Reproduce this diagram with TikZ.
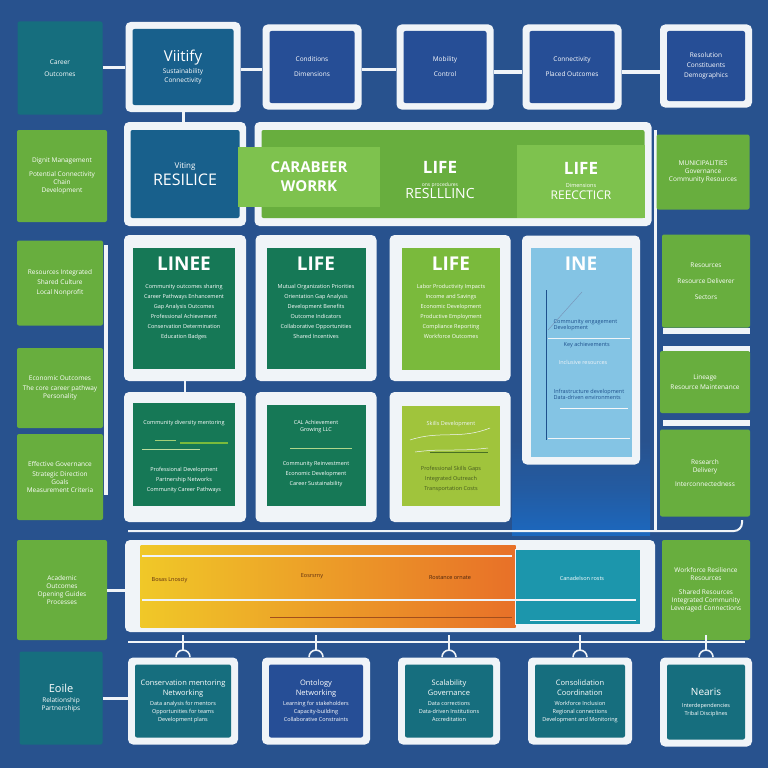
\documentclass[tikz,border=0pt]{standalone}
\usepackage{fontspec}
\setmainfont{Open Sans}
\usetikzlibrary{positioning}
\definecolor{bgblue}{RGB}{40,82,142}
\definecolor{paper}{RGB}{240,244,248}
\definecolor{boxteal}{RGB}{22,110,126}
\definecolor{boxnavy}{RGB}{38,78,150}
\definecolor{boxsea}{RGB}{24,96,140}
\definecolor{leaf}{RGB}{104,174,62}
\definecolor{leaflt}{RGB}{126,194,78}
\definecolor{pine}{RGB}{22,120,86}
\definecolor{cardlime}{RGB}{122,186,60}
\definecolor{olivec}{RGB}{160,196,60}
\definecolor{cardsky}{RGB}{132,196,228}
\definecolor{inkblue}{RGB}{30,80,140}
\definecolor{inkolive}{RGB}{70,90,30}
\definecolor{sunny}{RGB}{240,200,40}
\definecolor{ember}{RGB}{232,112,40}
\definecolor{lagoon}{RGB}{28,150,172}
\definecolor{glow}{RGB}{28,104,190}

\begin{document}
\begin{tikzpicture}[x=1pt,y=-1pt,line width=0.8pt,
  frame/.style={fill=paper,rounded corners=5pt,inner sep=0pt},
  tile/.style={rounded corners=2pt,inner sep=1pt,text=white,align=center,
    font=\fontsize{6.5}{12}\selectfont},
  title/.style={font=\fontsize{19}{21}\selectfont\bfseries,text=white},
  small/.style={font=\fontsize{5.5}{10}\selectfont,text=white,align=center},
  link/.style={draw=paper,line width=3pt},
  hookline/.style={draw=paper,line width=1.6pt}]
% background
\fill[bgblue] (0,0) rectangle (768,768);
\shade[top color=bgblue,bottom color=glow,middle color=bgblue!60!glow] (512,440) rectangle (650,535);
% top row
\node[tile,fill=boxteal,minimum width=85pt,minimum height=93pt] (car) at (60,68) {Career\\Outcomes};
\node[frame,minimum width=115pt,minimum height=90pt] (vitf) at (183,67) {};
\node[tile,fill=boxsea,minimum width=101pt,minimum height=76pt] (vit) at (vitf)
  {{\fontsize{15}{18}\selectfont Viitify}\\Sustainability\\[-3pt]Connectivity};
\node[frame,minimum width=99pt,minimum height=85pt] (conf) at (312,67) {};
\node[tile,fill=boxnavy,minimum width=85pt,minimum height=72pt] (con) at (conf) {Conditions\\[3pt]Dimensions};
\node[frame,minimum width=97pt,minimum height=85pt] (mobf) at (445,67) {};
\node[tile,fill=boxnavy,minimum width=83pt,minimum height=72pt] (mob) at (mobf) {Mobility\\[3pt]Control};
\node[frame,minimum width=99pt,minimum height=85pt] (plcf) at (572,67) {};
\node[tile,fill=boxnavy,minimum width=85pt,minimum height=72pt] (plc) at (plcf) {Connectivity\\[3pt]Placed Outcomes};
\node[frame,minimum width=92pt,minimum height=83pt] (resf) at (706,66) {};
\node[tile,fill=boxnavy,minimum width=78pt,minimum height=70pt] (res) at (resf)
  {Resolution\\[-2pt]Constituents\\[-2pt]Demographics};
\draw[link] (car.east) -- (car.east -| vitf.west);
\draw[link] ([yshift=-3pt]vitf.east) -- ([yshift=-3pt]vitf.east -| conf.west);
\draw[link] ([yshift=-3pt]conf.east) -- ([yshift=-3pt]conf.east -| mobf.west);
\draw[link] ([yshift=-5pt]mobf.east) -- ([yshift=-5pt]mobf.east -| plcf.west);
\draw[link] ([yshift=-5pt]plcf.east) -- ([yshift=-5pt]plcf.east -| resf.west);
% resilience row
\node[frame,minimum width=122pt,minimum height=104pt] (rsf) at (185,174) {};
\node[tile,fill=boxsea,minimum width=109pt,minimum height=88pt] (rs) at (rsf)
  {{\fontsize{8}{10}\selectfont Viting}\\[2pt]{\fontsize{16}{18}\selectfont RESILICE}};
\draw[link] (vitf.south) -- (vitf.south |- rsf.north);
\node[frame,minimum width=397pt,minimum height=104pt] (lifef) at (453,174) {};
\node[fill=leaf,minimum width=383pt,minimum height=88pt,rounded corners=2pt] (lifeg) at (lifef) {};
\node[fill=leaflt,minimum width=142pt,minimum height=60pt,text=white,align=center,
  font=\fontsize{15}{19}\selectfont\bfseries] (work) at (309,177) {CARABEER\\WORRK};
\node[text=white,align=center] (resl) at (440,180)
  {{\fontsize{17}{19}\selectfont\bfseries LIFE}\\[1pt]{\fontsize{5}{6}\selectfont ons procedures}\\{\fontsize{14}{16}\selectfont RESLLLINC}};
\node[fill=leaflt,minimum width=128pt,minimum height=73pt,text=white,align=center] (refl) at (581,181)
  {{\fontsize{17}{19}\selectfont\bfseries LIFE}\\[1pt]{\fontsize{5.5}{6}\selectfont Dimensions}\\{\fontsize{12}{14}\selectfont REECCTICR}};
% left column
\node[tile,fill=leaf,minimum width=90pt,minimum height=92pt] (dig) at (62,176)
  {Dignit Management\\[2pt]Potential Connectivity\\[-4pt]Chain\\[-4pt]Development};
\node[tile,fill=leaf,minimum width=86pt,minimum height=85pt] (shr) at (60,283)
  {Resources Integrated\\[-2pt]Shared Culture\\[-2pt]Local Nonprofit};
\node[tile,fill=leaf,minimum width=86pt,minimum height=80pt] (eco) at (60,388)
  {Economic Outcomes\\[-2pt]The core career pathway\\[-4pt]Personality};
\node[tile,fill=leaf,minimum width=86pt,minimum height=86pt] (gov) at (60,477)
  {Effective Governance\\[-2pt]Strategic Direction\\[-4pt]Goals\\[-4pt]Measurement Criteria};
\fill[paper] (104,245) rectangle (108,495);
\node[tile,fill=leaf,minimum width=90pt,minimum height=100pt] (aca) at (62,590)
  {Academic\\[-4pt]Outcomes\\[-4pt]Opening Guides\\[-4pt]Processes};
\node[tile,fill=boxteal,minimum width=83pt,minimum height=93pt] (eoi) at (61,698)
  {{\fontsize{11}{13}\selectfont Eoile}\\[-2pt]Relationship\\[-4pt]Partnerships};
% right column
\fill[paper] (654,130) rectangle (657,530);
\node[tile,fill=leaf,minimum width=93pt,minimum height=75pt] (mun) at (703,172)
  {MUNICIPALITIES\\[-4pt]Governance\\[-4pt]Community Resources};
\node[tile,fill=leaf,minimum width=88pt,minimum height=93pt] (rsd) at (706,281)
  {Resources\\[4pt]Resource Deliverer\\[4pt]Sectors};
\fill[paper] (663,328) rectangle (750,334);
\fill[paper] (663,346) rectangle (750,352);
\node[tile,fill=leaf,minimum width=90pt,minimum height=62pt] (lin) at (705,382)
  {Lineage\\[-2pt]Resource Maintenance};
\fill[paper] (663,420) rectangle (750,426);
\node[tile,fill=leaf,minimum width=90pt,minimum height=87pt] (rsc) at (705,473)
  {Research\\[-4pt]Delivery\\[2pt]Interconnectedness};
\node[tile,fill=leaf,minimum width=88pt,minimum height=100pt] (wrk) at (706,590)
  {Workforce Resilience\\[-4pt]Resources\\[2pt]Shared Resources\\[-4pt]Integrated Community\\[-4pt]Leveraged Connections};
% cards, upper row
\node[frame,minimum width=122pt,minimum height=146pt] (c1f) at (185,308) {};
\node[fill=pine,minimum width=102pt,minimum height=121pt] (c1) at (184,308) {};
\node[title,below=6pt of c1.north] (c1t) {LINEE};
\node[small,below=6pt of c1t] {Community outcomes sharing\\Career Pathways Enhancement\\Gap Analysis Outcomes\\Professional Achievement\\Conservation Determination\\Education Badges};
\node[frame,minimum width=121pt,minimum height=146pt] (c2f) at (316,308) {};
\node[fill=pine,minimum width=99pt,minimum height=121pt] (c2) at (316,308) {};
\node[title,below=6pt of c2.north] (c2t) {LIFE};
\node[small,below=6pt of c2t] {Mutual Organization Priorities\\Orientation Gap Analysis\\Development Benefits\\Outcome Indicators\\Collaborative Opportunities\\Shared Incentives};
\node[frame,minimum width=121pt,minimum height=146pt] (c3f) at (450,308) {};
\node[fill=cardlime,minimum width=98pt,minimum height=122pt] (c3) at (451,309) {};
\node[title,below=6pt of c3.north] (c3t) {LIFE};
\node[small,below=6pt of c3t] {Labor Productivity Impacts\\Income and Savings\\Economic Development\\Productive Employment\\Compliance Reporting\\Workforce Outcomes};
\node[frame,minimum width=118pt,minimum height=229pt] (c4f) at (581,350) {};
\node[fill=cardsky,minimum width=101pt,minimum height=209pt] (c4) at (581,352) {};
\node[title,below=6pt of c4.north] (c4t) {INE};
% chart on the sky card
\draw[inkblue,line width=0.5pt] (546,290) -- (546,440);
\draw[inkblue!60,line width=0.5pt] (548,330) -- (582,292);
\draw[paper,line width=0.8pt] (548,338) -- (630,338);
\draw[paper,line width=0.8pt] (548,438) -- (630,438);
\draw[paper!70,line width=0.6pt] (560,408) -- (628,408);
\node[small,text=inkblue,align=left,anchor=west] (c4a) at (550,325) {Community engagement\\[-4pt]Development};
\node[small,text=inkblue,anchor=west] (c4b) at (560,345) {Key achievements};
\node[small,text=paper,anchor=west] (c4c) at (555,362) {Inclusive resources};
\node[small,text=inkblue,align=left,anchor=west] (c4d) at (550,394) {Infrastructure development\\[-4pt]Data-driven environments};
% cards, lower row
\draw[hookline] (c1f.south) -- ++(0,14);
\node[frame,minimum width=122pt,minimum height=130pt] (d1f) at (185,457) {};
\node[fill=pine,minimum width=102pt,minimum height=103pt] (d1) at (184,454) {};
\node[small,below=14pt of d1.north] (d1t) {Community diversity mentoring};
\draw[cardlime,line width=1.6pt] (180,443) -- (228,443);
\draw[cardlime!70,line width=0.8pt] (155,440) -- (176,440);
\draw[cardlime!50,line width=0.8pt] (142,449) -- (200,449);
\node[small,below=34pt of d1t] {Professional Development\\Partnership Networks\\Community Career Pathways};
\node[frame,minimum width=121pt,minimum height=130pt] (d2f) at (316,457) {};
\node[fill=pine,minimum width=99pt,minimum height=101pt] (d2) at (316,455) {};
\node[small,below=12pt of d2.north,align=center] (d2t) {CAL Achievement\\[-3pt]Growing LLC};
\draw[cardlime!60,line width=0.8pt] (290,448) -- (352,448);
\node[small,below=22pt of d2t] {Community Reinvestment\\Economic Development\\Career Sustainability};
\node[frame,minimum width=121pt,minimum height=130pt] (d3f) at (450,457) {};
\node[fill=olivec,minimum width=98pt,minimum height=100pt] (d3) at (451,456) {};
\node[small,text=paper,below=12pt of d3.north] (d3t) {Skills Development};
\draw[paper!80,line width=0.5pt] (410,440) .. controls (440,430) and (460,440) .. (490,428);
\draw[paper!80,line width=0.5pt] (415,452) .. controls (445,448) and (455,452) .. (488,448);
\draw[cardlime!60!black,line width=1pt] (430,452) -- (488,452);
\node[small,text=inkolive,below=32pt of d3t] {Professional Skills Gaps\\Integrated Outreach\\Transportation Costs};
% band
\draw[paper,line width=2pt,rounded corners=8pt] (128,531) -- (742,531) -- (742,520);
\node[frame,minimum width=530pt,minimum height=92pt] (bandf) at (390,586) {};
\node[left color=sunny,right color=ember,minimum width=375pt,minimum height=82pt,inner sep=0pt] (grad) at (328,586) {};
\node[fill=lagoon,draw=paper,line width=1.2pt,minimum width=125pt,minimum height=75pt] (lago) at (578,587) {};
\draw[paper,line width=1.5pt] (142,556) -- (512,556);
\draw[paper,line width=1.5pt] (142,600) -- (636,600);
\draw[ember!70!black,line width=1pt] (270,617) -- (512,617);
\draw[paper!80,line width=0.8pt] (530,620) -- (636,620);
\node[small,text=ember!40!black,anchor=west] (bnd1) at (148,580) {Bosas Lnosciy};
\node[small,text=ember!40!black] (bnd2) at (312,576) {Eosrsrny};
\node[small,text=ember!30!black] (bnd3) at (450,578) {Rostance ornate};
\node[small] (bnd4) at (582,578) {Canadelson rosts};
\draw[link] (aca.east) -- (aca.east -| bandf.west);
% bottom row
\coordinate (railL) at (128,642);
\coordinate (railR) at (745,642);
\draw[paper!85,line width=1.2pt] (railL) -- (railR);
\node[frame,minimum width=110pt,minimum height=87pt] (b1f) at (183,701) {};
\node[tile,fill=boxteal,minimum width=96pt,minimum height=73pt,font=\fontsize{5.5}{10}\selectfont] (b1) at (b1f)
  {{\fontsize{7.5}{9}\selectfont Conservation mentoring}\\{\fontsize{7.5}{9}\selectfont Networking}\\Data analysis for mentors\\[-2pt]Opportunities for teams\\[-2pt]Development plans};
\node[frame,minimum width=108pt,minimum height=87pt] (b2f) at (316,701) {};
\node[tile,fill=boxnavy,minimum width=94pt,minimum height=73pt,font=\fontsize{5.5}{10}\selectfont] (b2) at (b2f)
  {{\fontsize{7.5}{9}\selectfont Ontology}\\{\fontsize{7.5}{9}\selectfont Networking}\\Learning for stakeholders\\[-2pt]Capacity-building\\[-2pt]Collaborative Constraints};
\node[frame,minimum width=102pt,minimum height=87pt] (b3f) at (449,701) {};
\node[tile,fill=boxteal,minimum width=88pt,minimum height=73pt,font=\fontsize{5.5}{10}\selectfont] (b3) at (b3f)
  {{\fontsize{7.5}{9}\selectfont Scalability}\\{\fontsize{7.5}{9}\selectfont Governance}\\Data corrections\\[-2pt]Data-driven Institutions\\[-2pt]Accreditation};
\node[frame,minimum width=104pt,minimum height=87pt] (b4f) at (580,701) {};
\node[tile,fill=boxteal,minimum width=90pt,minimum height=73pt,font=\fontsize{5.5}{10}\selectfont] (b4) at (b4f)
  {{\fontsize{7.5}{9}\selectfont Consolidation}\\{\fontsize{7.5}{9}\selectfont Coordination}\\Workforce Inclusion\\[-2pt]Regional connections\\[-2pt]Development and Monitoring};
\node[frame,minimum width=92pt,minimum height=89pt] (b5f) at (706,702) {};
\node[tile,fill=boxteal,minimum width=78pt,minimum height=75pt,font=\fontsize{5.5}{10}\selectfont] (b5) at (b5f)
  {{\fontsize{10}{12}\selectfont Nearis}\\[2pt]Interdependencies\\[-2pt]Tribal Disciplines};
\foreach \b in {b1f,b2f,b3f,b4f,b5f} {
  \draw[hookline] ([xshift=-7pt]\b.north) arc[start angle=180,end angle=0,radius=7pt];
  \draw[hookline] ([yshift=7pt]\b.north) -- ([yshift=7pt]\b.north |- railL);
}
\draw[link] (eoi.east) -- (eoi.east -| b1f.west);
\end{tikzpicture}
\end{document}
